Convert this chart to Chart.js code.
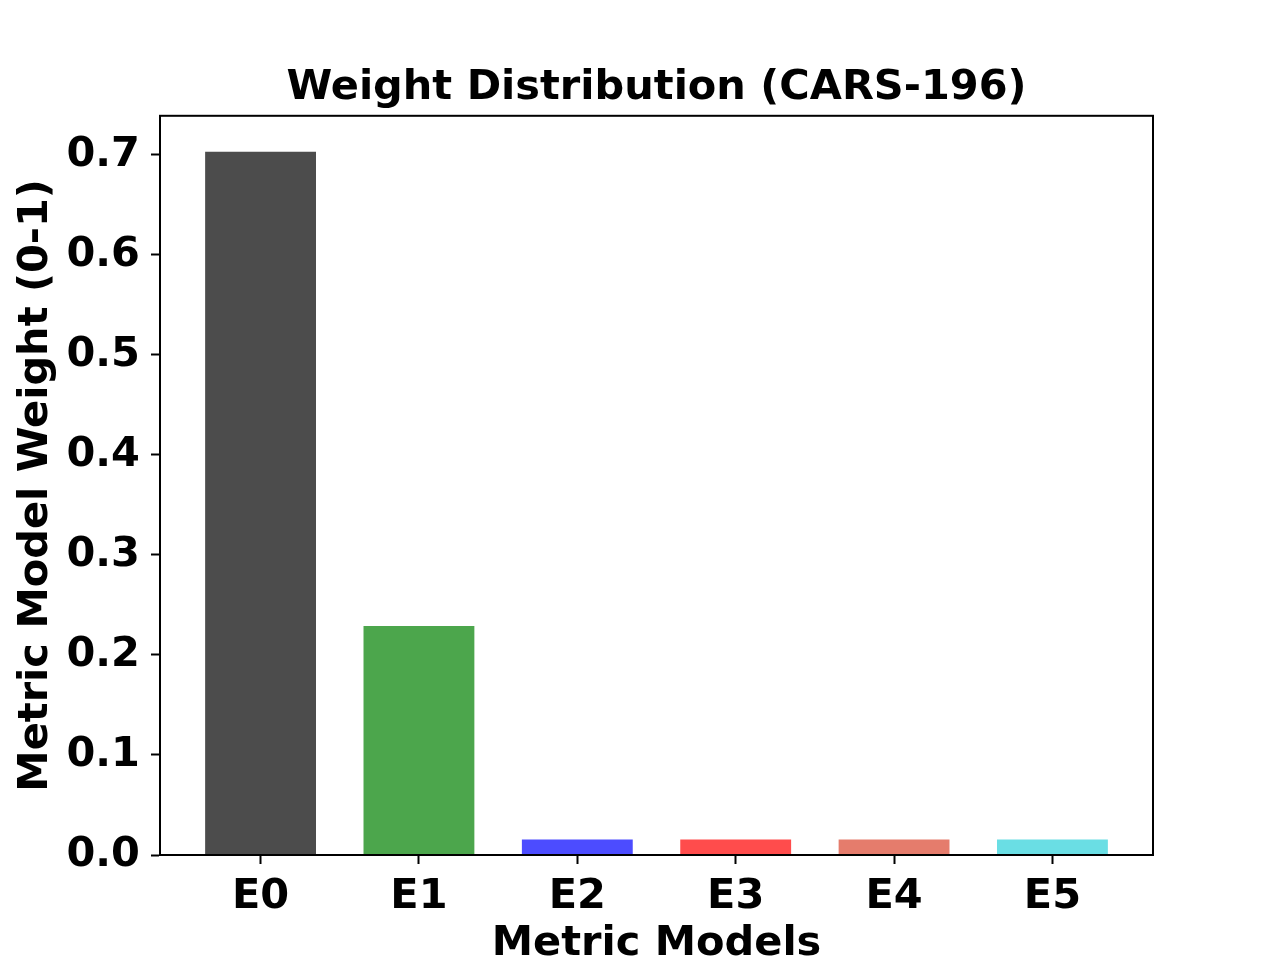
<!DOCTYPE html>
<html>
<head>
<meta charset="utf-8">
<script src="https://cdn.jsdelivr.net/npm/chart.js@4"></script>
<style>
  html, body { margin: 0; padding: 0; background: #fff; }
  #wrap { width: 1283px; height: 962px; }
</style>
</head>
<body>
<div id="wrap"><canvas id="myChart"></canvas></div>
<script>
const models = ['E0', 'E1', 'E2', 'E3', 'E4', 'E5'];
const weights = [0.703, 0.229, 0.0155, 0.0155, 0.0155, 0.0155];
const barColors = ['#4c4c4c', '#4ca64c', '#4c4cff', '#ff4c4c', '#e57c6c', '#6adee4'];
const yTicks = [0, 0.1, 0.2, 0.3, 0.4, 0.5, 0.6, 0.7];

const FONT = 'DejaVu Sans';
const SIZE = 41.5;

// draw the top and right spines too (matplotlib box)
const frame = {
  id: 'frame',
  afterDatasetsDraw(chart) {
    const { ctx, chartArea: a } = chart;
    ctx.save();
    ctx.strokeStyle = '#000';
    ctx.lineWidth = 2;
    ctx.strokeRect(a.left, a.top, a.right - a.left, a.bottom - a.top);
    ctx.restore();
  },
};

function configureChart() {
  const ctx = document.getElementById('myChart').getContext('2d');
  new Chart(ctx, {
    type: 'bar',
    data: {
      datasets: [
        {
          data: weights.map((w, i) => ({ x: i, y: w })),
          backgroundColor: barColors,
          borderWidth: 0,
          categoryPercentage: 1,
          barPercentage: 0.7,
        },
      ],
    },
    options: {
      responsive: true,
      maintainAspectRatio: false,
      animation: false,
      layout: { padding: { left: 0, right: 130, top: 0, bottom: 0 } },
      plugins: {
        legend: { display: false },
        tooltip: { enabled: false },
        title: {
          display: true,
          text: 'Weight Distribution (CARS-196)',
          color: '#000',
          fullSize: false,
          font: { family: FONT, size: SIZE, weight: 'bold', lineHeight: 1.2 },
          padding: { top: 63, bottom: 3 },
        },
      },
      scales: {
        x: {
          type: 'linear',
          offset: false,
          min: -0.635,
          max: 5.635,
          afterFit: s => { s.height = 107; },
          grid: { offset: false, drawOnChartArea: false, tickLength: 9, tickWidth: 2, tickColor: '#000' },
          border: { display: true, color: '#000', width: 2 },
          ticks: {
            stepSize: 1,
            includeBounds: false,
            autoSkip: false,
            maxRotation: 0,
            padding: 10,
            color: '#000',
            font: { family: FONT, size: SIZE, weight: 'bold', lineHeight: 1.1 },
            callback: value => models[value],
          },
          title: {
            display: true,
            text: 'Metric Models',
            color: '#000',
            font: { family: FONT, size: SIZE, weight: 'bold', lineHeight: 0.85 },
            padding: { top: 0, bottom: 0 },
          },
        },
        y: {
          min: 0,
          max: 0.739,
          afterFit: s => { s.width = 160; },
          afterBuildTicks: s => { s.ticks = yTicks.map(v => ({ value: v })); },
          grid: { drawOnChartArea: false, tickLength: 9, tickWidth: 2, tickColor: '#000' },
          border: { display: true, color: '#000', width: 2 },
          ticks: {
            padding: 11,
            color: '#000',
            font: { family: FONT, size: SIZE, weight: 'bold', lineHeight: 1.1 },
            callback: value => value.toFixed(1),
          },
          title: {
            display: true,
            text: 'Metric Model Weight (0-1)',
            color: '#000',
            font: { family: FONT, size: SIZE, weight: 'bold', lineHeight: 1.1 },
            padding: { top: 13.5, bottom: 0 },
          },
        },
      },
    },
    plugins: [frame],
  });
}
configureChart();
</script>
</body>
</html>
